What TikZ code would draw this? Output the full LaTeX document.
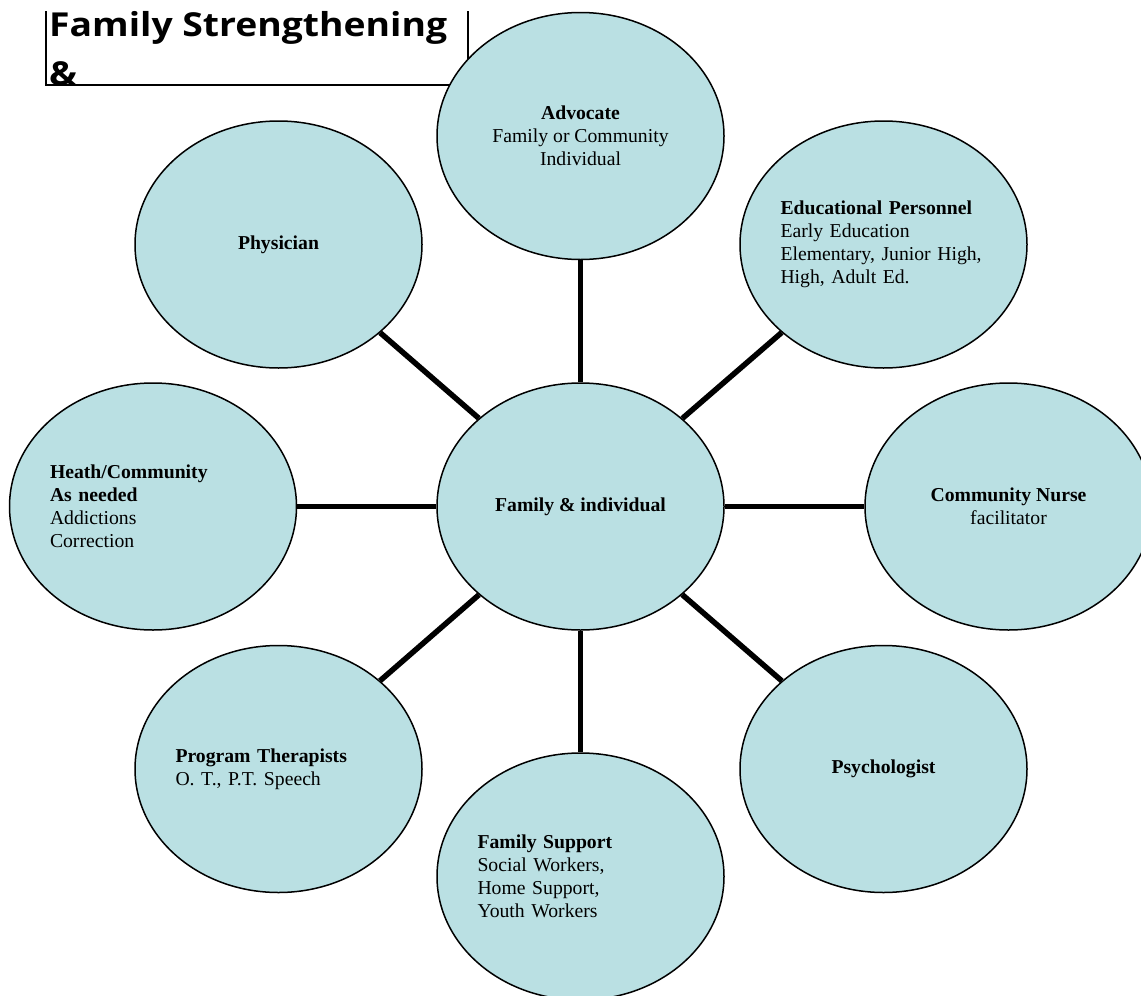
\documentclass[tikz,border=0pt]{standalone}
\usepackage{fontspec}
\setmainfont{Liberation Serif}
\newfontfamily\headfont{Open Sans}[FakeStretch=1.13]
\usepackage{tikz}
\usetikzlibrary{positioning,shapes.geometric}
\definecolor{bubble}{RGB}{186,224,227}

\begin{document}
\begin{tikzpicture}[x=1pt,y=-1pt,
    every node/.style={font=\fontsize{19.7}{23}\selectfont},
    bub/.style={draw,ellipse,fill=bubble,line width=1.5pt,minimum width=287pt,minimum height=247pt,inner sep=0pt},
    lbox/.style={text width=206pt,align=left,inner xsep=-5pt},
    link/.style={line width=5.5pt}]
  \useasboundingbox (0,0) rectangle (1141,996);
  \clip (0,0) rectangle (1141,996);
  % title frame, open at the top
  \draw[line width=1.2pt] (46,11) -- (46,85) -- (468,85) -- (468,11);
  \node[anchor=north west,inner sep=0pt,align=left,font=\headfont\bfseries\fontsize{33}{49}\selectfont] (ttl) at (49,11) {Family Strengthening\\\&};
  % hub and the eight spokes
  \node[bub] (fam) at (580.5,506.5) {\textbf{Family \& individual}};
  \node[bub,align=center] (adv) at (580.5,136) {\textbf{Advocate}\\Family or Community\\Individual};
  \node[bub,lbox] (edu) at (883.5,244.5) {\textbf{Educational Personnel}\\Early Education\\Elementary, Junior High,\\High, Adult Ed.};
  \node[bub,align=center] (nur) at (1008.5,506.5) {\textbf{Community Nurse}\\facilitator};
  \node[bub] (psy) at (883.5,769) {\textbf{Psychologist}};
  \node[bub,lbox] (sup) at (580.5,876.5) {\textbf{Family Support}\\Social Workers,\\Home Support,\\Youth Workers};
  \node[bub,lbox] (thr) at (278.5,769) {\textbf{Program Therapists}\\O. T., P.T. Speech};
  \node[bub,lbox] (hea) at (153,506.5) {\textbf{Heath/Community}\\\textbf{As needed}\\Addictions\\Correction};
  \node[bub] (phy) at (278.5,244.5) {\textbf{Physician}};
  \foreach \n in {adv,edu,nur,psy,sup,thr,hea,phy}
    \draw[link] (fam) -- (\n);
\end{tikzpicture}
\end{document}
